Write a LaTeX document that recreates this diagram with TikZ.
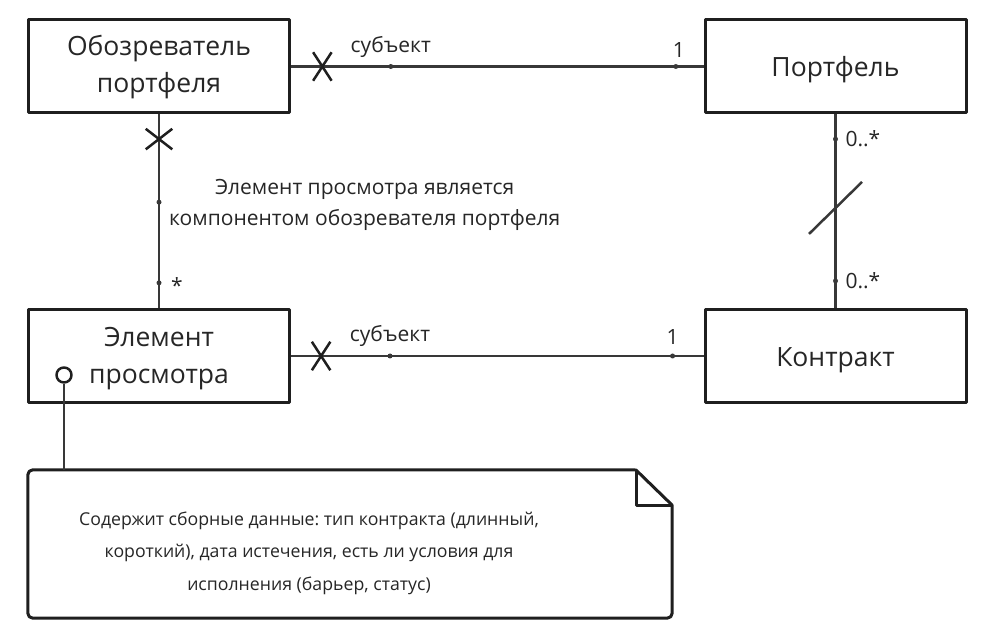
\documentclass[tikz,border=0pt]{standalone}
\usepackage{fontspec}
\setmainfont{Open Sans}
\usetikzlibrary{shapes.misc}
\frenchspacing

\begin{document}
\begin{tikzpicture}[
    x=1pt, y=-1pt,
    line join=round,
    every node/.style={text=black!85},
    classbox/.style={
        draw=black!88, line width=3pt,
        minimum width=261pt, minimum height=93pt,
        inner sep=0pt, align=center,
        font=\fontsize{26.5}{37}\selectfont
    },
    assoc/.style={draw=black!78, line width=2.5pt},
    joint/.style={circle, fill=black!78, minimum size=5pt, inner sep=0pt},
    xmarkh/.style={
        cross out, draw=black!88, line width=2.5pt,
        minimum width=16pt, minimum height=26pt, inner sep=0pt
    },
    xmarkv/.style={
        cross out, draw=black!88, line width=2.5pt,
        minimum width=24pt, minimum height=18pt, inner sep=0pt
    },
    rolelbl/.style={font=\fontsize{21}{25}\selectfont, inner sep=1pt},
    notebox/.style={draw=black!88, line width=3pt}
]
\useasboundingbox (0,0) rectangle (986,644);

% Klassen
\node[classbox, text height=58pt] (obozr) at (159,66.5) {Обозреватель\\портфеля};
\node[classbox, text height=27pt] (portf) at (835.5,66.5) {Портфель};
\node[classbox, text height=62pt] (elem) at (159,356) {Элемент\\просмотра};
\node[classbox, text height=27pt] (kontr) at (835.5,356) {Контракт};

% obozr -- portf
\draw[assoc] (obozr.east) -- (portf.west)
    node[xmarkh, pos=0.076] (x1) {}
    node[joint, pos=0.242, label={[rolelbl, label distance=3pt]above:субъект}] (d1) {}
    node[joint, pos=0.933, label={[rolelbl, label distance=3pt, xshift=3pt]above:1}] (d2) {};

% elem -- kontr
\draw[assoc] (elem.east) -- (kontr.west)
    node[xmarkh, pos=0.073] (x2) {}
    node[joint, pos=0.24, label={[rolelbl, label distance=3pt]above:субъект}] (d3) {}
    node[joint, pos=0.925, label={[rolelbl, label distance=5pt]above:1}] (d4) {};

% obozr -- elem (Komposition)
\draw[assoc] (obozr.south) -- (elem.north)
    node[xmarkv, pos=0.127] (x3) {}
    node[joint, pos=0.453] (d5) {}
    node[joint, pos=0.87, label={[rolelbl, label distance=6pt, yshift=-3pt]right:*}] (d6) {};
\node[rolelbl, right=9pt, yshift=-3pt, align=center, font=\fontsize{21}{31}\selectfont] (komp) at (d5)
    {Элемент просмотра является\\компонентом обозревателя портфеля};

% portf -- kontr
\draw[assoc] (portf.south) -- (kontr.north)
    node[joint, pos=0.127, label={[rolelbl, label distance=4pt]right:0..*}] (d7) {}
    coordinate[pos=0.483] (slash)
    node[joint, pos=0.86, label={[rolelbl, label distance=4pt]right:0..*}] (d8) {};
\draw[assoc] (slash) ++(-26.5,26) -- ++(53,-52);

% Notiz
\node[minimum width=644pt, minimum height=148pt, inner sep=0pt] (note) at (350,544) {};
\draw[notebox] (636,470) [rounded corners=5pt] -- (note.north west)
    -- (note.south west) -- (note.south east) [sharp corners] -- (672,505) -- cycle;
\draw[notebox] (636,470) -- (636,505) -- (672,505);
\node[align=center, font=\fontsize{17.7}{32.5}\selectfont] (notetxt) at (309,553)
    {Содержит сборные данные: тип контракта (длинный,\\короткий), дата истечения, есть ли условия для\\исполнения (барьер, статус)};

\node[circle, draw=black!88, line width=2.5pt, minimum size=15pt, inner sep=0pt] (ball) at (64,375) {};
\draw[assoc] (ball.south) -- (ball.south |- note.north);

\end{tikzpicture}
\end{document}
